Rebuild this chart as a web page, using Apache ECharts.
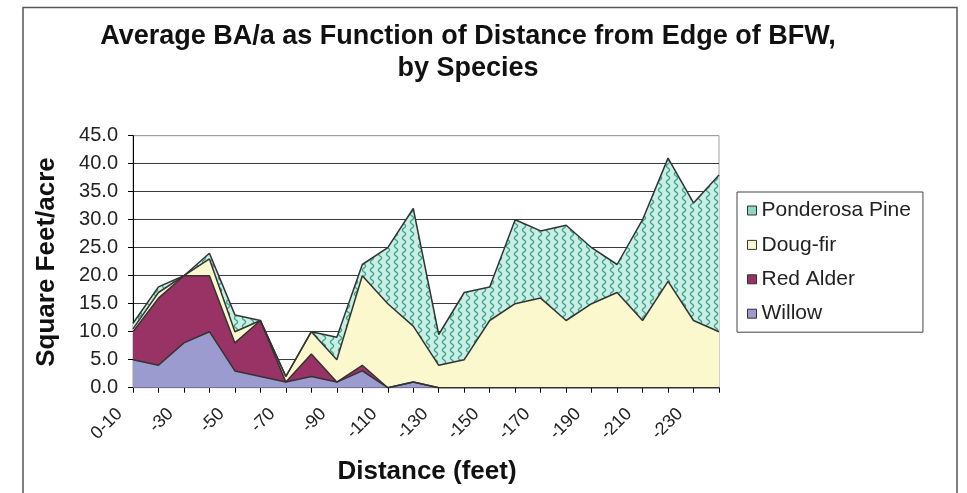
<!DOCTYPE html>
<html>
<head>
<meta charset="utf-8">
<script src="https://cdn.jsdelivr.net/npm/echarts@6/dist/echarts.min.js"></script>
<style>
  html, body { margin: 0; padding: 0; background: #ffffff; }
  #chart { width: 967px; height: 493px; }
</style>
</head>
<body>
<div id="chart"></div>
<script>
// Distance bands from the edge of the BFW
const categories = ['0-10', '-20', '-30', '-40', '-50', '-60', '-70', '-80', '-90', '-100',
  '-110', '-120', '-130', '-140', '-150', '-160', '-170', '-180', '-190', '-200',
  '-210', '-220', '-230', '-240'];

// Average basal area per acre (sq ft/acre) for each species, stacked bottom to top
const willow    = [5, 4, 8, 10, 3, 2, 1, 2, 1, 3, 0, 1, 0, 0, 0, 0, 0, 0, 0, 0, 0, 0, 0, 0];
const redAlder  = [5, 12, 12, 10, 5, 10, 0, 4, 0, 1, 0, 0, 0, 0, 0, 0, 0, 0, 0, 0, 0, 0, 0, 0];
const dougFir   = [0.5, 1, 0, 3, 2, 0, 1, 4, 4, 16, 15, 10, 4, 5, 12, 15, 16, 12, 15, 17, 12, 19, 12, 10];
const ponderosa = [1, 1, 0, 1, 3, 0, 0, 0, 4, 2, 10, 21, 5.5, 12, 6, 15, 12, 17, 10, 5, 18, 22, 21, 28];

const yTicks = [0, 5, 10, 15, 20, 25, 30, 35, 40, 45];

const FONT = '"Liberation Sans", Arial, sans-serif';

// Wavy hatch tile used for the Ponderosa Pine fill
function makeWaveTile() {
  const c = document.createElement('canvas');
  c.width = 8; c.height = 8;
  const g = c.getContext('2d');
  g.fillStyle = '#c9eee8';
  g.fillRect(0, 0, 8, 8);
  g.strokeStyle = '#3aa47f';
  g.lineWidth = 1.3;
  g.beginPath();
  for (let y = -1; y <= 9; y += 0.5) {
    const x = 4 + 1.6 * Math.sin((y / 8) * Math.PI * 2);
    if (y === -1) g.moveTo(x, y); else g.lineTo(x, y);
  }
  g.stroke();
  return c;
}
const pineFill = { image: makeWaveTile(), repeat: 'repeat' };

const chart = echarts.init(document.getElementById('chart'), null, { renderer: 'canvas' });

function areaSeries(name, data, fill, swatch) {
  return {
    name: name,
    type: 'line',
    stack: 'species',
    data: data,
    showSymbol: false,
    symbol: 'none',
    lineStyle: { color: '#333333', width: 1.5 },
    areaStyle: { color: fill, opacity: 1 },
    itemStyle: { color: swatch },
    emphasis: { disabled: true },
    animation: false
  };
}

const gridColors = yTicks.map((v, i) => i === yTicks.length - 1 ? '#a0a0a0' : '#3a3a3a');

chart.setOption({
  animation: false,
  backgroundColor: '#ffffff',
  grid: {
    left: 133, right: 248, top: 135.7, bottom: 105.3,
    show: true, borderColor: '#a0a0a0', borderWidth: 1, backgroundColor: 'transparent'
  },
  legend: {
    orient: 'vertical',
    left: 737, top: 192,
    padding: [8, 12, 8, 10],
    itemGap: 13.4,
    itemWidth: 9, itemHeight: 9,
    icon: 'rect',
    borderColor: '#444444', borderWidth: 1,
    backgroundColor: '#ffffff',
    textStyle: { fontFamily: FONT, fontSize: 21, color: '#222222' },
    itemStyle: { borderColor: '#333333', borderWidth: 1 },
    data: ['Ponderosa Pine', 'Doug-fir', 'Red Alder', 'Willow']
  },
  xAxis: {
    type: 'category',
    data: categories,
    boundaryGap: false,
    axisLine: { lineStyle: { color: '#000000', width: 1 } },
    axisTick: { show: true, interval: 0, length: 5, lineStyle: { color: '#000000' } },
    axisLabel: {
      interval: 1, rotate: 45, margin: 10,
      padding: [0, 19, 0, 0],
      fontFamily: FONT, fontSize: 18, color: '#222222'
    },
    splitLine: { show: false }
  },
  yAxis: {
    type: 'value',
    min: 0, max: 45, interval: 5,
    axisLine: { show: true, lineStyle: { color: '#000000', width: 1 } },
    axisTick: { show: true, length: 5, lineStyle: { color: '#000000' } },
    axisLabel: {
      margin: 15,
      fontFamily: FONT, fontSize: 20, color: '#222222',
      formatter: v => v.toFixed(1)
    },
    splitLine: { show: true, lineStyle: { color: gridColors, width: 1.2 } }
  },
  series: [
    areaSeries('Willow', willow, '#9b9bcf', '#9b9bcf'),
    areaSeries('Red Alder', redAlder, '#993366', '#993366'),
    areaSeries('Doug-fir', dougFir, '#fbf8cd', '#fbf8cd'),
    areaSeries('Ponderosa Pine', ponderosa, pineFill, '#8fd6c4')
  ],
  graphic: [
    {
      type: 'rect', silent: true, z: -10,
      shape: { x: 23, y: 7.5, width: 934, height: 500 },
      style: { fill: 'none', stroke: '#555555', lineWidth: 1.5 }
    },
    {
      type: 'text', silent: true,
      x: 468, y: 53,
      style: {
        text: 'Average BA/a as Function of Distance from Edge of BFW,\nby Species',
        font: 'bold 27px ' + FONT,
        fill: '#111111',
        align: 'center', verticalAlign: 'middle', lineHeight: 32
      }
    },
    {
      type: 'text', silent: true,
      x: 47, y: 262, rotation: Math.PI / 2,
      style: {
        text: 'Square Feet/acre',
        font: 'bold 26px ' + FONT,
        fill: '#111111',
        align: 'center', verticalAlign: 'middle'
      }
    },
    {
      type: 'text', silent: true,
      x: 427, y: 472,
      style: {
        text: 'Distance (feet)',
        font: 'bold 26px ' + FONT,
        fill: '#111111',
        align: 'center', verticalAlign: 'middle'
      }
    }
  ]
});
</script>
</body>
</html>
